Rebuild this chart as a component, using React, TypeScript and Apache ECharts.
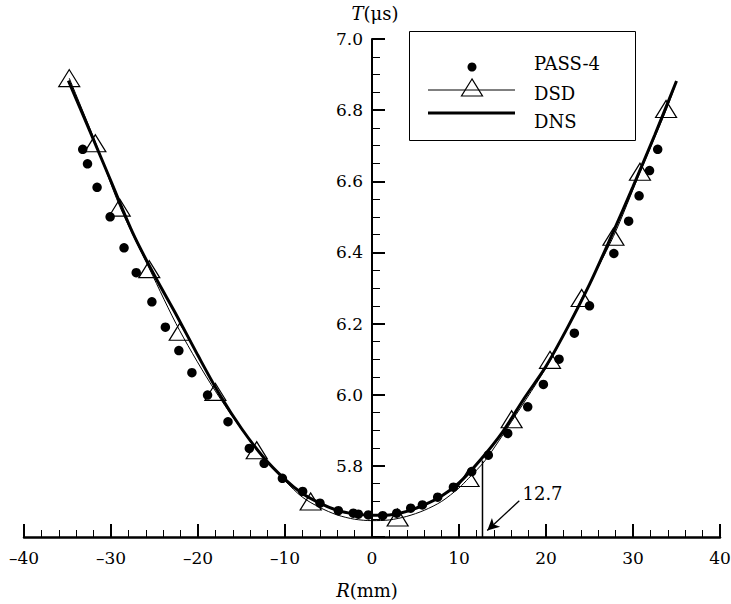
import React, { useEffect, useRef } from 'react';
import * as echarts from 'echarts';

const FONT = 'DejaVu Serif';

// DNS (thick line)
const dnsR = [-34.9, -32.5, -30, -27.5, -25, -22.5, -20, -17.5, -15, -12.5, -10, -8, -6, -4, -2, 0, 2, 4, 6, 8, 10, 12.5, 15, 17.5, 20, 22.5, 25, 27.5, 30, 32.5, 35];
const dnsT = [6.883, 6.745, 6.6, 6.455, 6.335, 6.225, 6.11, 6.0, 5.905, 5.825, 5.762, 5.722, 5.695, 5.675, 5.665, 5.661, 5.662, 5.672, 5.69, 5.715, 5.752, 5.818, 5.895, 5.99, 6.08, 6.19, 6.31, 6.445, 6.585, 6.73, 6.882];

// DSD (thin line)
const dsdR = [-34.8, -31.8, -29, -25.6, -22.1, -18, -13.25, -10, -8, -6, -4, -2, 0, 2, 4, 6, 8, 10, 11.1, 13, 16.05, 20.46, 24.1, 27.75, 30.8, 33.8, 34.8];
const dsdT = [6.89, 6.71, 6.53, 6.355, 6.18, 6.01, 5.845, 5.758, 5.712, 5.683, 5.662, 5.65, 5.646, 5.648, 5.658, 5.675, 5.7, 5.738, 5.765, 5.815, 5.925, 6.095, 6.27, 6.445, 6.625, 6.8, 6.865];

// DSD triangle markers
const triR = [-34.8, -31.8, -29.0, -25.6, -22.1, -18.0, -13.25, -7.05, 2.95, 11.1, 16.05, 20.46, 24.1, 27.75, 30.8, 33.8];
const triT = [6.89, 6.707, 6.526, 6.353, 6.177, 6.008, 5.844, 5.7, 5.655, 5.766, 5.931, 6.098, 6.272, 6.444, 6.627, 6.803];

// PASS-4 points
const passR = [-33.25, -32.7, -31.6, -30.1, -28.5, -27.1, -25.3, -23.75, -22.2, -20.7, -18.9, -16.55, -14.1, -12.4, -10.3, -7.97, -5.98, -3.87, -2.15, -1.57, -0.42, 1.23, 2.84, 4.45, 5.79, 7.55, 9.36, 11.46, 13.37, 15.6, 17.9, 19.7, 21.5, 23.26, 25.0, 27.8, 29.5, 30.7, 31.9, 32.84];
const passT = [6.69, 6.649, 6.583, 6.5, 6.413, 6.343, 6.261, 6.19, 6.124, 6.062, 5.999, 5.924, 5.849, 5.807, 5.765, 5.728, 5.695, 5.674, 5.667, 5.664, 5.662, 5.66, 5.667, 5.681, 5.69, 5.712, 5.74, 5.784, 5.83, 5.891, 5.966, 6.029, 6.1, 6.173, 6.25, 6.397, 6.488, 6.559, 6.63, 6.69];

// Annotation
const markR = [12.7, 12.7];
const markT = [5.6, 5.815];
const arrowFrom = [16.93, 5.702];
const arrowTo = [13.25, 5.618];
const noteAt = [17.24, 5.7236];
const noteText = '12.7';

const legendNames = ['PASS-4', 'DSD', 'DNS'];

const zip = (r: number[], t: number[]) => r.map((v, i) => [v, t[i]]);

const GRID_LEFT = 24;
const GRID_RIGHT = 11;
const W = 731;
const X_MIN = -40;
const X_MAX = 40;

export default function App() {
  const ref = useRef<HTMLDivElement>(null);
  useEffect(() => {
    document.body.style.margin = '0';
    const chart = echarts.init(ref.current!, null, { renderer: 'svg' });
    const txt = { fontFamily: FONT, fontSize: 18, color: '#000' };
    const plotW = W - GRID_LEFT - GRID_RIGHT;
    const zeroOffset = -((0 - X_MIN) / (X_MAX - X_MIN)) * plotW;
    chart.setOption({
      animation: false,
      backgroundColor: '#fff',
      textStyle: { fontFamily: FONT },
      grid: { left: GRID_LEFT, right: GRID_RIGHT, top: 39, bottom: 67, containLabel: false, outerBoundsMode: 'none' },
      xAxis: {
        type: 'value', min: X_MIN, max: X_MAX, interval: 10,
        axisLine: { show: true, onZero: false, lineStyle: { color: '#000', width: 2.5 } },
        axisTick: { show: true, inside: true, length: 13, lineStyle: { color: '#000', width: 2 } },
        minorTick: { show: true, splitNumber: 5, length: 7, lineStyle: { color: '#000', width: 1 } },
        splitLine: { show: false },
        axisLabel: { ...txt, fontSize: 17, margin: 12, formatter: (v: number) => String(v).replace('-', '\u2013') },
      },
      yAxis: {
        type: 'value', min: 5.6, max: 7.0, interval: 0.2,
        offset: zeroOffset,
        axisLine: { show: true, onZero: false, lineStyle: { color: '#000', width: 2 } },
        axisTick: { show: true, inside: true, length: 13, lineStyle: { color: '#000', width: 2 } },
        minorTick: { show: true, splitNumber: 4, length: 8, lineStyle: { color: '#000', width: 1 } },
        splitLine: { show: false },
        axisLabel: { ...txt, fontSize: 17, margin: 9, showMinLabel: false, formatter: (v: number) => v.toFixed(1) },
      },
      series: [
        {
          name: 'DNS', type: 'line', data: zip(dnsR, dnsT), smooth: 0.3, showSymbol: false,
          lineStyle: { color: '#000', width: 3 }, z: 3,
        },
        {
          name: 'DSD', type: 'line', data: zip(dsdR, dsdT), smooth: 0.3, showSymbol: false,
          lineStyle: { color: '#000', width: 1 }, z: 2,
        },
        {
          name: 'DSD markers', type: 'scatter', data: zip(triR, triT), symbol: 'triangle', symbolSize: [21, 17],
          itemStyle: { color: 'transparent', borderColor: '#000', borderWidth: 1.2, opacity: 1 }, z: 4,
        },
        {
          name: 'PASS-4', type: 'scatter', data: zip(passR, passT), symbol: 'circle', symbolSize: 9.5,
          itemStyle: { color: '#000', opacity: 1 }, z: 5,
        },
        {
          name: 'mark', type: 'line', data: zip(markR, markT), showSymbol: false,
          lineStyle: { color: '#000', width: 1.5 }, z: 2,
          markLine: {
            silent: true, symbol: ['none', 'arrow'], symbolSize: [9, 12],
            lineStyle: { color: '#000', width: 1.3, type: 'solid' },
            itemStyle: { color: '#000' },
            label: { show: false },
            data: [[{ coord: arrowFrom }, { coord: arrowTo }]],
          },
        },
        {
          name: 'note', type: 'scatter', data: [noteAt], symbolSize: 1,
          itemStyle: { color: '#fff', opacity: 1 },
          label: { show: true, position: 'right', distance: 0, formatter: noteText, ...txt, opacity: 1 },
        },
      ],
      graphic: [
        { type: 'rect', z: 100, shape: { x: 409.5, y: 31.5, width: 226, height: 109 }, style: { fill: '#fff', stroke: '#000', lineWidth: 1 } },
        { type: 'circle', z: 101, shape: { cx: 472, cy: 67, r: 4.5 }, style: { fill: '#000' } },
        { type: 'line', z: 101, shape: { x1: 428, y1: 90, x2: 515, y2: 90 }, style: { stroke: '#000', lineWidth: 1 } },
        { type: 'polygon', z: 102, shape: { points: [[472, 79], [461.5, 96], [482.5, 96]] }, style: { fill: 'none', stroke: '#000', lineWidth: 1.2 } },
        { type: 'line', z: 101, shape: { x1: 428, y1: 113, x2: 515, y2: 113 }, style: { stroke: '#000', lineWidth: 3 } },
        { type: 'text', z: 101, x: 534, y: 63, style: { text: legendNames[0], fontFamily: FONT, fontSize: 18, fill: '#000', verticalAlign: 'middle' } },
        { type: 'text', z: 101, x: 534, y: 93, style: { text: legendNames[1], fontFamily: FONT, fontSize: 18, fill: '#000', verticalAlign: 'middle' } },
        { type: 'text', z: 101, x: 534, y: 121, style: { text: legendNames[2], fontFamily: FONT, fontSize: 18, fill: '#000', verticalAlign: 'middle' } },
        {
          type: 'text', z: 101, x: 375, y: 13,
          style: {
            text: '{i|T}(μs)', fontFamily: FONT, fontSize: 18, fill: '#000', align: 'center', verticalAlign: 'middle',
            rich: { i: { fontStyle: 'italic', fontFamily: FONT, fontSize: 18, fill: '#000' } },
          },
        },
        {
          type: 'text', z: 101, x: 367, y: 590,
          style: {
            text: '{i|R}(mm)', fontFamily: FONT, fontSize: 18, fill: '#000', align: 'center', verticalAlign: 'middle',
            rich: { i: { fontStyle: 'italic', fontFamily: FONT, fontSize: 18, fill: '#000' } },
          },
        },
      ],
    });
    return () => chart.dispose();
  }, []);
  return <div ref={ref} style={{ width: 731, height: 604 }} />;
}
